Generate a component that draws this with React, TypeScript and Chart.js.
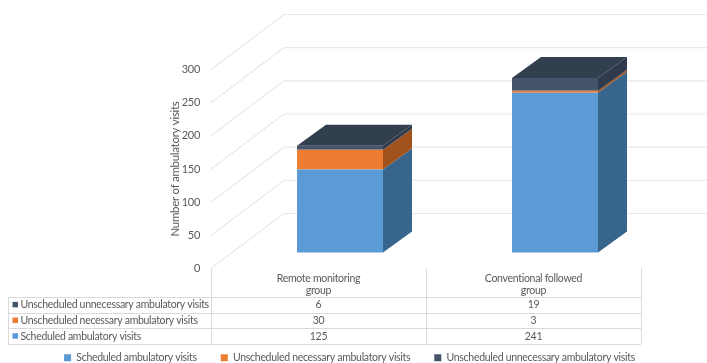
import { useEffect, useRef } from "react";
import { Chart, registerables } from "chart.js";

Chart.register(...registerables);

const groups = [["Remote monitoring", "group"], ["Conventional followed", "group"]];
const scheduled = [125, 241];
const necessary = [30, 3];
const unnecessary = [6, 19];
const seriesNames = [
  "Scheduled ambulatory visits",
  "Unscheduled necessary ambulatory visits",
  "Unscheduled unnecessary ambulatory visits",
];
const frontColors = ["#5B9BD5", "#ED7D31", "#44546A"];
const sideColors = ["#38658C", "#A0531C", "#2F3B4C"];
const topColor = "#323F4F";

const FONT = "Lato, sans-serif";
const TEXT = "#595959";
const GRID = "#E9E9E9";
const TABLE_LINE = "#DADADA";
const WALL_DX = 73;
const WALL_DY = -55;
const BAR_SHIFT_X = 21.5;
const BAR_SHIFT_Y = -16;
const BAR_DEPTH_X = 29;
const BAR_DEPTH_Y = -21;
const TABLE_TOP = 297;
const TABLE_ROW = 15.7;
const TABLE_LEFT = 8;
const LEGEND_DROP = 10;
const LEGEND_SHIFT = 29;

function quad(ctx: CanvasRenderingContext2D, pts: number[][], color: string) {
  ctx.beginPath();
  pts.forEach(([x, y], i) => (i ? ctx.lineTo(x, y) : ctx.moveTo(x, y)));
  ctx.closePath();
  ctx.fillStyle = color;
  ctx.fill();
}

// Draws the side and back walls behind the bars, offsets the bars into the
// depth of the plot, adds their side and top faces, then the data table below.
const depthPlugin = {
  id: "depth",
  beforeUpdate(chart: any) {
    chart.ctx.letterSpacing = "-0.3px";
  },
  afterLayout(chart: any) {
    const { legend } = chart;
    legend.top += LEGEND_DROP;
    legend.bottom += LEGEND_DROP;
    legend.left += LEGEND_SHIFT;
    legend.right += LEGEND_SHIFT;
  },
  beforeDatasetsDraw(chart: any) {
    const { ctx, chartArea, scales } = chart;
    ctx.save();
    ctx.strokeStyle = GRID;
    ctx.lineWidth = 1.2;
    scales.y.ticks.forEach((t: any) => {
      const y = scales.y.getPixelForValue(t.value);
      ctx.beginPath();
      ctx.moveTo(chartArea.left, y);
      ctx.lineTo(chartArea.left + WALL_DX, y + WALL_DY);
      ctx.lineTo(chart.width + 10, y + WALL_DY);
      ctx.stroke();
    });
    ctx.restore();
    ctx.save();
    ctx.translate(BAR_SHIFT_X, BAR_SHIFT_Y);
  },
  afterDatasetsDraw(chart: any) {
    const { ctx } = chart;
    const last = chart.data.datasets.length - 1;
    chart.data.datasets.forEach((_: any, d: number) => {
      chart.getDatasetMeta(d).data.forEach((el: any) => {
        const { x, y, base, width } = el.getProps(["x", "y", "base", "width"], true);
        const r = x + width / 2;
        const l = x - width / 2;
        quad(ctx, [[r, y], [r + BAR_DEPTH_X, y + BAR_DEPTH_Y], [r + BAR_DEPTH_X, base + BAR_DEPTH_Y], [r, base]], sideColors[d]);
        if (d === last) {
          quad(ctx, [[l, y], [l + BAR_DEPTH_X, y + BAR_DEPTH_Y], [r + BAR_DEPTH_X, y + BAR_DEPTH_Y], [r, y]], topColor);
        }
      });
    });
    ctx.restore();
  },
  afterDraw(chart: any) {
    const { ctx, chartArea, scales } = chart;
    const rows = [
      { name: seriesNames[2], values: unnecessary, color: frontColors[2] },
      { name: seriesNames[1], values: necessary, color: frontColors[1] },
      { name: seriesNames[0], values: scheduled, color: frontColors[0] },
    ];
    const mid = (chartArea.left + chartArea.right) / 2;
    const bottom = Math.round(TABLE_TOP + rows.length * TABLE_ROW);
    ctx.save();
    ctx.strokeStyle = TABLE_LINE;
    ctx.lineWidth = 1;
    [chartArea.left, mid, chartArea.right].forEach((x: number) => {
      ctx.beginPath();
      ctx.moveTo(x + 0.5, chartArea.bottom);
      ctx.lineTo(x + 0.5, bottom);
      ctx.stroke();
    });
    for (let i = 0; i <= rows.length; i++) {
      const y = Math.round(TABLE_TOP + i * TABLE_ROW) + 0.5;
      ctx.beginPath();
      ctx.moveTo(TABLE_LEFT, y);
      ctx.lineTo(chartArea.right, y);
      ctx.stroke();
    }
    ctx.beginPath();
    ctx.moveTo(TABLE_LEFT + 0.5, TABLE_TOP);
    ctx.lineTo(TABLE_LEFT + 0.5, bottom);
    ctx.stroke();
    ctx.font = `10.5px ${FONT}`;
    ctx.textBaseline = "middle";
    rows.forEach((row, i) => {
      const cy = TABLE_TOP + i * TABLE_ROW + TABLE_ROW / 2;
      ctx.fillStyle = row.color;
      ctx.fillRect(TABLE_LEFT + 4.5, cy - 3, 5.5, 5.5);
      ctx.fillStyle = TEXT;
      ctx.textAlign = "left";
      ctx.fillText(row.name, TABLE_LEFT + 12.5, cy);
      ctx.textAlign = "center";
      row.values.forEach((v, j) => ctx.fillText(String(v), scales.x.getPixelForTick(j), cy));
    });
    ctx.restore();
  },
};

export default function App() {
  const ref = useRef<HTMLCanvasElement>(null);
  useEffect(() => {
    const chart = new Chart(ref.current!, {
      type: "bar",
      data: {
        labels: groups,
        datasets: [scheduled, necessary, unnecessary].map((values, i) => ({
          label: seriesNames[i],
          data: values,
          backgroundColor: frontColors[i],
          barPercentage: 0.4,
          categoryPercentage: 1,
          clip: false,
        })),
      },
      options: {
        responsive: false,
        animation: false,
        layout: { padding: { left: 0, right: 66, top: 69.5, bottom: 0 } },
        plugins: {
          tooltip: { enabled: false },
          legend: {
            position: "bottom",
            labels: {
              boxWidth: 7,
              boxHeight: 7,
              padding: 24,
              color: TEXT,
              font: { family: FONT, size: 10.5 },
            },
          },
        },
        scales: {
          x: {
            stacked: true,
            grid: { display: false, drawTicks: false },
            border: { display: false },
            afterFit: (s: any) => { s.height = 50; },
            ticks: {
              color: TEXT,
              font: { family: FONT, size: 10.5, lineHeight: 1.15 },
              padding: 4,
              maxRotation: 0,
              autoSkip: false,
            },
          },
          y: {
            stacked: true,
            min: 0,
            max: 300,
            grid: { display: false, drawTicks: false },
            border: { display: false },
            afterFit: (s: any) => { s.width = 211; },
            ticks: {
              stepSize: 50,
              padding: 11,
              color: TEXT,
              font: { family: FONT, size: 11 },
            },
            title: {
              display: true,
              text: "Number of ambulatory visits",
              color: TEXT,
              font: { family: FONT, size: 11.5 },
              padding: { top: 168, bottom: 0 },
            },
          },
        },
      },
      plugins: [depthPlugin],
    } as any);
    return () => chart.destroy();
  }, []);
  return (
    <div style={{ position: "absolute", left: 0, top: 0, width: 707, height: 363, background: "#fff" }}>
      <canvas ref={ref} width={707} height={363} style={{ display: "block" }} />
    </div>
  );
}
